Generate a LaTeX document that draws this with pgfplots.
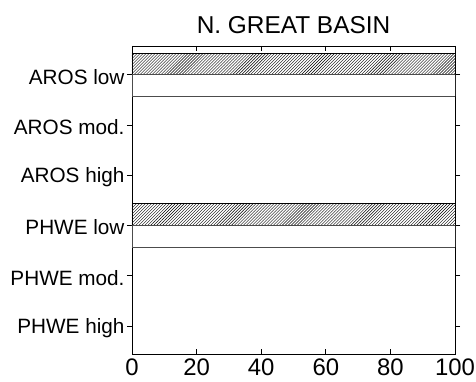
\documentclass[border=0pt]{standalone}
\usepackage{pgfplots}
\pgfplotsset{compat=1.18}
\usepackage{fontspec}
\setmainfont{Liberation Sans}
\usetikzlibrary{patterns}
\begin{document}
\begin{tikzpicture}[x=1bp,y=1bp]
\path[use as bounding box] (-132bp,-28bp) rectangle (344bp,354bp);
\begin{axis}[
  scale only axis,
  width=323bp, height=308bp,
  xmin=0, xmax=100,
  ymin=-0.57, ymax=5.56,
  y dir=reverse,
  xtick={0,20,40,60,80,100},
  ytick={0,1,2,3,4,5},
  yticklabels={AROS low,AROS mod.,AROS high,PHWE low,PHWE mod.,PHWE high},
  /pgf/number format/assume math mode=true,
  yticklabel style={font=\fontsize{20.8}{24}\selectfont, xshift=1bp, yshift=-2bp},
  xticklabel style={font=\fontsize{24}{28}\selectfont, yshift=-1.5bp},
  title={N. GREAT BASIN},
  title style={font=\fontsize{24.5}{28}\selectfont, yshift=3bp},
  axis line style={line width=0.9pt},
  major tick length=5bp,
  tick style={line width=0.7pt, black},
  xbar, bar shift=0pt, bar width=0.43,
]
\addplot[draw=black, line width=0.6pt, pattern=north east lines] coordinates {(100,-0.215) (100,2.785)};
\addplot[draw=black!70, line width=0.6pt, fill=white] coordinates {(100,0.215) (100,3.215)};
\end{axis}
\end{tikzpicture}
\end{document}
